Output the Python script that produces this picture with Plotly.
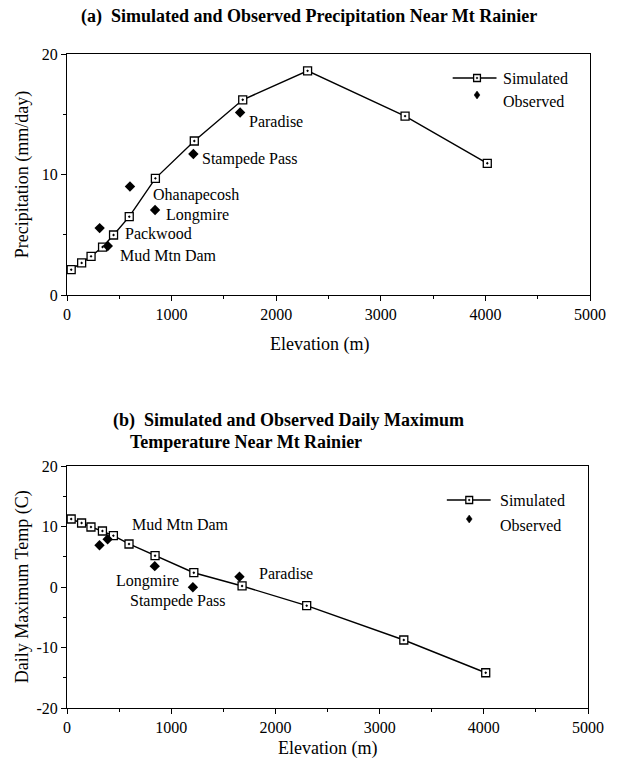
import plotly.graph_objects as go

# ---- data -------------------------------------------------------------
# model grid elevations (m)
sim_elev = [40, 140, 230, 340, 445, 595, 845, 1217, 1680, 2300, 3232, 4018]
sim_precip = [2.10, 2.66, 3.21, 3.98, 4.98, 6.50, 9.68, 12.78, 16.2, 18.6, 14.85, 10.93]
sim_tmax = [11.24, 10.58, 9.92, 9.26, 8.48, 7.11, 5.17, 2.36, 0.17, -3.09, -8.76, -14.17]

# stations
st_names = ["Packwood", "Mud Mtn Dam", "Ohanapecosh", "Longmire", "Stampede Pass", "Paradise"]
st_elev = [312, 390, 602, 842, 1208, 1655]
obs_precip = [5.55, 4.07, 9.0, 7.05, 11.7, 15.15]
# no temperature record at Ohanapecosh
t_names = ["Packwood", "Mud Mtn Dam", "Longmire", "Stampede Pass", "Paradise"]
t_elev = [312, 390, 842, 1208, 1655]
obs_tmax = [6.9, 7.9, 3.45, -0.05, 1.7]

# label anchor points (left edge, vertical centre) in data units
p_lab_x = [540, 484, 801, 931, 1276, 1723]
p_lab_y = [5.12, 3.26, 8.3, 6.64, 11.26, 14.38]
t_lab_x = [-100, 605, 455, 582, 1819]
t_lab_y = [4.74, 10.25, 0.99, -2.31, 2.26]

x_ticks = [0, 1000, 2000, 3000, 4000, 5000]
p_ticks = [0, 10, 20]
t_ticks = [-20, -10, 0, 10, 20]
t_tick_text = ["-20", "-10", "0", "10", "20"]

# ---- layout geometry ---------------------------------------------------
W, H = 618, 763
ML, MR, MT, MB = 67, 14, 54, 55
PW, PH = W - ML - MR, H - MT - MB
FONT = "Liberation Serif"


def px(x):
    return (x - ML) / PW


def py(y):
    return (H - MB - y) / PH


fig = go.Figure()

sim_marker = dict(symbol="square-dot", size=8, color="white",
                  line=dict(color="black", width=1.3))
obs_marker = dict(symbol="diamond", size=8, color="black")

fig.add_trace(go.Scatter(x=sim_elev, y=sim_precip, mode="lines+markers",
                         line=dict(color="black", width=1.4), marker=sim_marker,
                         xaxis="x", yaxis="y", showlegend=False))
fig.add_trace(go.Scatter(x=st_elev, y=obs_precip, mode="markers", marker=obs_marker,
                         xaxis="x", yaxis="y", showlegend=False))
fig.add_trace(go.Scatter(x=sim_elev, y=sim_tmax, mode="lines+markers",
                         line=dict(color="black", width=1.4), marker=sim_marker,
                         xaxis="x2", yaxis="y2", showlegend=False))
fig.add_trace(go.Scatter(x=t_elev, y=obs_tmax, mode="markers", marker=obs_marker,
                         xaxis="x2", yaxis="y2", showlegend=False))

axis_common = dict(showline=True, linecolor="black", linewidth=1, mirror=True,
                   ticks="outside", ticklen=5, tickcolor="black", tickwidth=1,
                   showgrid=False, zeroline=False,
                   tickfont=dict(family=FONT, size=16, color="black"))
minor = dict(ticks="outside", ticklen=3, tickcolor="black", showgrid=False)

top_dom = [py(295), 1.0]
bot_dom = [0.0, py(466)]

fig.update_layout(
    width=W, height=H, margin=dict(l=ML, r=MR, t=MT, b=MB),
    paper_bgcolor="white", plot_bgcolor="white",
    font=dict(family=FONT, size=16, color="black"),
    xaxis=dict(axis_common, range=[0, 5000], tickvals=x_ticks, anchor="y",
               minor=dict(minor, dtick=500)),
    yaxis=dict(axis_common, range=[0, 20], tickvals=p_ticks, domain=top_dom,
               anchor="x", minor=dict(minor, dtick=5)),
    xaxis2=dict(axis_common, range=[0, 5000], tickvals=x_ticks, anchor="y2",
                minor=dict(minor, dtick=500), domain=[0, (602 - ML) / PW]),
    yaxis2=dict(axis_common, range=[-20, 20], tickvals=t_ticks, ticktext=t_tick_text,
                domain=bot_dom, anchor="x2", minor=dict(minor, dtick=5)),
)

ann = []
# station labels
for n, x, y in zip(st_names, p_lab_x, p_lab_y):
    ann.append(dict(text=n, x=x, y=y, xref="x", yref="y", xanchor="left",
                    yanchor="middle", showarrow=False, font=dict(family=FONT, size=16)))
for n, x, y in zip(t_names, t_lab_x, t_lab_y):
    ann.append(dict(text=n, x=x, y=y, xref="x2", yref="y2", xanchor="left",
                    yanchor="middle", showarrow=False, font=dict(family=FONT, size=16)))

# titles
ann.append(dict(text="<b>(a)  Simulated and Observed Precipitation Near Mt Rainier</b>",
                x=px(315), y=py(17), xref="paper", yref="paper", showarrow=False,
                xanchor="center", yanchor="middle", font=dict(family=FONT, size=18)))
ann.append(dict(text="<b>(b)  Simulated and Observed Daily Maximum</b>",
                x=px(112), y=py(421), xref="paper", yref="paper", showarrow=False,
                xanchor="left", yanchor="middle", font=dict(family=FONT, size=18)))
ann.append(dict(text="<b>Temperature Near Mt Rainier</b>",
                x=px(130), y=py(442), xref="paper", yref="paper", showarrow=False,
                xanchor="left", yanchor="middle", font=dict(family=FONT, size=18)))

# axis titles
ann.append(dict(text="Elevation (m)", x=px(326), y=py(344), xref="paper", yref="paper",
                showarrow=False, xanchor="center", yanchor="middle",
                font=dict(family=FONT, size=18)))
ann.append(dict(text="Elevation (m)", x=px(334), y=py(748), xref="paper", yref="paper",
                showarrow=False, xanchor="center", yanchor="middle",
                font=dict(family=FONT, size=18)))
ann.append(dict(text="Precipitation (mm/day)", x=px(22), y=py(175), xref="paper",
                yref="paper", showarrow=False, textangle=-90, xanchor="center",
                yanchor="middle", font=dict(family=FONT, size=18)))
ann.append(dict(text="Daily Maximum Temp (C)", x=px(21), y=py(587), xref="paper",
                yref="paper", showarrow=False, textangle=-90, xanchor="center",
                yanchor="middle", font=dict(family=FONT, size=18)))

# legend entries
shapes = []


def legend_block(x0, x1, xm, y_sim, y_obs_mark, y_obs_text, x_text):
    shapes.append(dict(type="line", xref="paper", yref="paper",
                       x0=px(x0), x1=px(x1), y0=py(y_sim), y1=py(y_sim),
                       line=dict(color="black", width=1.4)))
    shapes.append(dict(type="rect", xref="paper", yref="paper",
                       x0=px(xm - 3.5), x1=px(xm + 3.5), y0=py(y_sim + 3.5), y1=py(y_sim - 3.5),
                       fillcolor="white", line=dict(color="black", width=1.3)))
    shapes.append(dict(type="rect", xref="paper", yref="paper",
                       x0=px(xm - 0.7), x1=px(xm + 0.7), y0=py(y_sim + 0.7), y1=py(y_sim - 0.7),
                       fillcolor="black", line=dict(color="black", width=0.5)))
    d = 4
    path = "M {} {} L {} {} L {} {} L {} {} Z".format(
        px(xm), py(y_obs_mark - d), px(xm + d * 0.75), py(y_obs_mark),
        px(xm), py(y_obs_mark + d), px(xm - d * 0.75), py(y_obs_mark))
    shapes.append(dict(type="path", xref="paper", yref="paper", path=path,
                       fillcolor="black", line=dict(color="black", width=0.5)))
    ann.append(dict(text="Simulated", x=px(x_text), y=py(y_sim), xref="paper",
                    yref="paper", showarrow=False, xanchor="left", yanchor="middle",
                    font=dict(family=FONT, size=16)))
    ann.append(dict(text="Observed", x=px(x_text), y=py(y_obs_text), xref="paper",
                    yref="paper", showarrow=False, xanchor="left", yanchor="middle",
                    font=dict(family=FONT, size=16)))


legend_block(463, 508, 488, 78, 95, 101, 513)
legend_block(457, 502, 480, 500, 519, 525, 510)

fig.update_layout(annotations=ann, shapes=shapes)

fig.write_html("out.html")
